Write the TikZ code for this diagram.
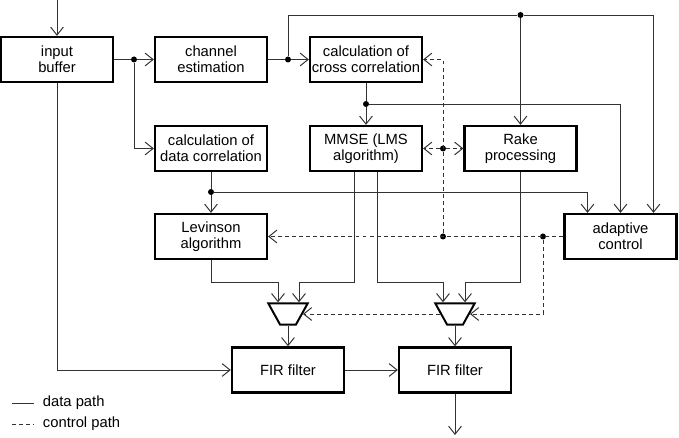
\documentclass[tikz,border=0pt]{standalone}
\usepackage{fontspec}
\setmainfont{Liberation Sans}
\usetikzlibrary{arrows.meta,shapes.geometric}
\begin{document}
\begin{tikzpicture}[x=0.025cm,y=-0.025cm,
  every node/.style={font=\fontsize{10.5}{11.5}\selectfont},
  block/.style={draw,line width=1.6pt,minimum width=2.8cm,minimum height=1.125cm,inner sep=0pt,align=center},
  mux/.style={draw,line width=1.4pt,trapezium,shape border rotate=180,trapezium left angle=61,trapezium right angle=61,
    inner xsep=5.6pt,inner ysep=7.6pt},
  data/.style={line width=0.7pt,draw=black!80,-{Straight Barb[length=2mm,width=3.2mm]}},
  ctrl/.style={data,dash pattern=on 2.8pt off 2.2pt},
  dot/.style={circle,fill,inner sep=0pt,minimum size=0.15cm}]
\useasboundingbox (0,0) rectangle (679,438);

% blocks
\node[block] (inbuf) at (57,59.5) {input\\buffer};
\node[block] (chest) at (211,59.5) {channel\\estimation};
\node[block] (xcorr) at (366,59.5) {calculation of\\cross correlation};
\node[block] (dcorr) at (211,148.5) {calculation of\\data correlation};
\node[block] (mmse) at (366,148.5) {MMSE (LMS\\algorithm)};
\node[block] (rake) at (520.5,148.5) {Rake\\processing};
\node[block] (lev) at (211,236.5) {Levinson\\algorithm};
\node[block] (adapt) at (620.5,236.5) {adaptive\\control};
\node[mux] (mux1) at (288,314) {};
\node[mux] (mux2) at (455,314) {};
\node[block] (fir1) at (288,370) {FIR filter};
\node[block] (fir2) at (455,370) {FIR filter};
\coordinate (in) at (57,0);
\coordinate (out) at (455,435);

% branch points
\node[dot] (d1) at (134,59.5) {};
\node[dot] (d2) at (288,59.5) {};
\node[dot] (d3) at (520.5,15) {};
\node[dot] (d4) at (366,104) {};
\node[dot] (d5) at (211,192) {};
\node[dot] (c1) at (443,148.5) {};
\node[dot] (c2) at (443,236.5) {};
\node[dot] (c3) at (543,236.5) {};

% data path
\draw[data] (in) -- (inbuf);
\draw[data,-] (inbuf) -- (d1);
\draw[data] (d1) -- (chest);
\draw[data] (d1) |- (dcorr);
\draw[data,-] (chest) -- (d2);
\draw[data] (d2) -- (xcorr);
\draw[data] (d2) |- (d3) -| ([xshift=0.825cm]adapt.north);
\draw[data] (d3) -- (rake);
\draw[data,-] (xcorr) -- (d4);
\draw[data] (d4) -- (mmse);
\draw[data] (d4) -| (adapt.north);
\draw[data,-] (dcorr) -- (d5);
\draw[data] (d5) -- (lev);
\draw[data] (d5) -| ([xshift=-0.825cm]adapt.north);
\draw[data] (lev.south) -- ++(0,22) -| ([xshift=-0.25cm]mux1.north);
\draw[data] ([xshift=-0.3cm]mmse.south) -- ++(0,110) -| ([xshift=0.275cm]mux1.north);
\draw[data] ([xshift=0.275cm]mmse.south) -- ++(0,110) -| ([xshift=-0.3cm]mux2.north);
\draw[data] (rake.south) -- ++(0,110) -| ([xshift=0.25cm]mux2.north);
\draw[data] (mux1) -- (fir1);
\draw[data] (mux2) -- (fir2);
\draw[data] (inbuf) |- (fir1);
\draw[data] (fir1) -- (fir2);
\draw[data] (fir2) -- (out);

% control path
\draw[ctrl] (c1) -- (mmse);
\draw[ctrl] (c1) -- (rake);
\draw[ctrl] (c2) |- (xcorr.east);
\draw[ctrl] (adapt) -- (lev);
\draw[ctrl] (c3) |- (mux2.east);
\draw[ctrl] (mux2.west) -- (mux1.east);

% legend
\draw[line width=0.7pt,black!80] (12,403) -- (34,403);
\node[anchor=west] (lgdata) at (38,403) {data path};
\draw[line width=0.7pt,black!80,dash pattern=on 2.8pt off 2.2pt] (12,424) -- (34,424);
\node[anchor=west] (lgctrl) at (38,424) {control path};
\end{tikzpicture}
\end{document}
